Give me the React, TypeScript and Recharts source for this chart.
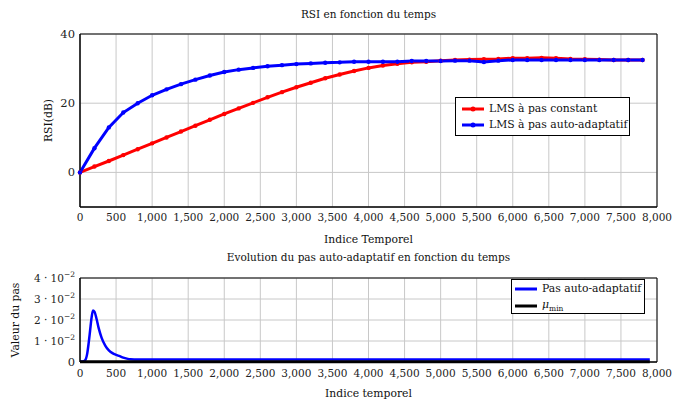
import { LineChart, Line, XAxis, YAxis, CartesianGrid, ReferenceArea, Legend } from "recharts";

const rsiIndex = [
  0, 200, 400, 600, 800, 1000, 1200, 1400, 1600, 1800, 2000, 2200, 2400, 2600, 2800, 3000, 3200, 3400, 3600, 3800,
  4000, 4200, 4400, 4600, 4800, 5000, 5200, 5400, 5600, 5800, 6000, 6200, 6400, 6600, 6800, 7000, 7200, 7400, 7600, 7800,
];
const rsiConstant = [
  0, 1.7, 3.3, 5.0, 6.7, 8.4, 10.1, 11.8, 13.5, 15.2, 16.9, 18.5, 20.1, 21.7, 23.2, 24.6, 25.9, 27.2, 28.3, 29.3,
  30.2, 30.9, 31.4, 31.8, 32.0, 32.3, 32.5, 32.6, 32.7, 32.8, 33.0, 33.0, 33.1, 33.0, 32.8, 32.7, 32.6, 32.5, 32.5, 32.5,
];
const rsiAdaptive = [
  0, 7.0, 13.0, 17.3, 20.0, 22.3, 24.0, 25.5, 26.8, 28.0, 29.0, 29.7, 30.2, 30.7, 31.0, 31.3, 31.5, 31.7, 31.8, 32.0,
  32.0, 32.0, 32.0, 32.2, 32.2, 32.2, 32.3, 32.3, 31.9, 32.3, 32.5, 32.5, 32.5, 32.5, 32.5, 32.5, 32.5, 32.5, 32.5, 32.5,
];

const stepIndex = [
  0, 40, 70, 100, 120, 140, 160, 180, 200, 230, 260, 300, 350, 400, 450, 500, 550, 600, 650, 700, 800, 1000,
  2000, 3000, 4000, 5000, 6000, 7000, 7900,
];
const stepAdaptive = [
  0.0002, 0.0003, 0.0008, 0.004, 0.009, 0.015, 0.021, 0.0245, 0.024, 0.0205, 0.016, 0.0115, 0.0078, 0.0055, 0.0042,
  0.0034, 0.0028, 0.0021, 0.0016, 0.0013, 0.0012, 0.0012, 0.0012, 0.0012, 0.0012, 0.0012, 0.0012, 0.0012, 0.0012,
];
const muMinIndex = [0, 7900];
const muMinValues = [0.0001, 0.0001];

const xTicks = [0, 500, 1000, 1500, 2000, 2500, 3000, 3500, 4000, 4500, 5000, 5500, 6000, 6500, 7000, 7500, 8000];
const rsiTicks = [0, 20, 40];
const stepTicks = [0, 0.01, 0.02, 0.03, 0.04];

const rsiData = rsiIndex.map((i, k) => ({ i, constant: rsiConstant[k], adaptive: rsiAdaptive[k] }));
const stepData = stepIndex.map((i, k) => ({ i, v: stepAdaptive[k] }));
const muMinData = muMinIndex.map((i, k) => ({ i, v: muMinValues[k] }));

const FONT = "'DejaVu Serif', serif";
const tickStyle = { fontSize: 10.5, fill: "#222", fontFamily: FONT };
const fmt = (v: number) => v.toLocaleString("en-US");

function StepTick({ x, y, payload }: any) {
  const v = payload.value;
  if (v === 0) {
    return (
      <text x={x} y={y} dy="0.35em" textAnchor="end" style={{ ...tickStyle, fontSize: 11.5 }}>
        0
      </text>
    );
  }
  return (
    <text x={x} y={y} dy="0.35em" textAnchor="end" style={tickStyle}>
      <tspan>{Math.round(v * 100)} · 10</tspan>
      <tspan dy={-5} fontSize={7.5}>
        −2
      </tspan>
    </text>
  );
}

function Sample({ color, dot }: { color: string; dot?: boolean }) {
  return (
    <svg width={22} height={8} style={{ marginRight: 5, flex: "none" }}>
      <line x1={0} y1={4} x2={22} y2={4} stroke={color} strokeWidth={3} />
      {dot && <circle cx={11} cy={4} r={2.5} fill={color} />}
    </svg>
  );
}

const legendBox: React.CSSProperties = {
  border: "1px solid #000",
  background: "#fff",
  fontFamily: FONT,
  fontSize: 10.8,
  lineHeight: "16px",
  color: "#111",
  whiteSpace: "nowrap",
  boxSizing: "border-box",
};

function RsiLegend() {
  return (
    <div style={{ ...legendBox, width: 175, height: 39, padding: "3px 0 0 6px" }}>
      <div style={{ display: "flex", alignItems: "center" }}>
        <Sample color="#ff0000" dot />
        LMS à pas constant
      </div>
      <div style={{ display: "flex", alignItems: "center" }}>
        <Sample color="#0000ff" dot />
        LMS à pas auto-adaptatif
      </div>
    </div>
  );
}

function StepLegend() {
  return (
    <div style={{ ...legendBox, width: 134, height: 35, padding: "1px 0 0 3px" }}>
      <div style={{ display: "flex", alignItems: "center" }}>
        <Sample color="#0000ff" />
        Pas auto-adaptatif
      </div>
      <div style={{ display: "flex", alignItems: "center" }}>
        <Sample color="#000" />
        <span>
          <span style={{ fontStyle: "italic" }}>μ</span>
          <span style={{ fontSize: 7.5, position: "relative", top: 3 }}>min</span>
        </span>
      </div>
    </div>
  );
}

const titleStyle: React.CSSProperties = {
  position: "absolute",
  left: 80,
  width: 577,
  textAlign: "center",
  fontFamily: FONT,
  fontSize: 10.5,
  color: "#111",
};

const labelStyle = { fontSize: 10.8, fill: "#111", fontFamily: FONT };

export default function App() {
  return (
    <div style={{ position: "absolute", left: 0, top: 0, width: 673, height: 403, background: "#fff", fontFamily: FONT }}>
      <div style={{ ...titleStyle, top: 8 }}>RSI en fonction du temps</div>
      <div style={{ ...titleStyle, top: 251 }}>Evolution du pas auto-adaptatif en fonction du temps</div>

      <div style={{ position: "absolute", left: 0, top: 0 }}>
        <LineChart width={673} height={250} data={rsiData} margin={{ top: 34, right: 16, bottom: 7, left: 0 }}>
          <CartesianGrid stroke="#c8c8c8" strokeWidth={1} />
          <XAxis
            dataKey="i"
            type="number"
            domain={[0, 8000]}
            ticks={xTicks}
            interval={0}
            tickFormatter={fmt}
            tick={tickStyle}
            tickLine={false}
            tickSize={5}
            height={36}
            axisLine={{ stroke: "#000" }}
            label={{ value: "Indice Temporel", position: "insideBottom", offset: 0, style: labelStyle }}
          />
          <YAxis
            type="number"
            domain={[-10, 40]}
            ticks={rsiTicks}
            interval={0}
            tick={{ ...tickStyle, fontSize: 11.5 }}
            tickLine={false}
            tickSize={3}
            width={80}
            axisLine={{ stroke: "#000" }}
            label={{ value: "RSI(dB)", angle: -90, position: "insideLeft", offset: 48, style: { ...labelStyle, textAnchor: "middle" } }}
          />
          <ReferenceArea x1={0} x2={8000} y1={-10} y2={40} fill="none" stroke="#000" strokeWidth={1} />
          <Line
            dataKey="constant"
            stroke="#ff0000"
            strokeWidth={3}
            dot={{ r: 2.2, fill: "#ff0000", stroke: "#ff0000", strokeWidth: 0 }}
            isAnimationActive={false}
          />
          <Line
            dataKey="adaptive"
            stroke="#0000ff"
            strokeWidth={3}
            dot={{ r: 2.2, fill: "#0000ff", stroke: "#0000ff", strokeWidth: 0 }}
            isAnimationActive={false}
          />
          <Legend
            layout="horizontal"
            verticalAlign="middle"
            align="center"
            wrapperStyle={{ left: 455, top: 97, width: "auto" }}
            content={() => <RsiLegend />}
          />
        </LineChart>
      </div>

      <div style={{ position: "absolute", left: 0, top: 240 }}>
        <LineChart width={673} height={163} margin={{ top: 38, right: 16, bottom: 3, left: 0 }}>
          <CartesianGrid stroke="#c8c8c8" strokeWidth={1} />
          <XAxis
            dataKey="i"
            type="number"
            domain={[0, 8000]}
            ticks={xTicks}
            interval={0}
            tickFormatter={fmt}
            tick={tickStyle}
            tickLine={false}
            tickSize={6}
            height={38}
            axisLine={{ stroke: "#000" }}
            allowDuplicatedCategory={false}
            label={{ value: "Indice temporel", position: "insideBottom", offset: 3, style: labelStyle }}
          />
          <YAxis
            type="number"
            domain={[0, 0.04]}
            ticks={stepTicks}
            interval={0}
            tick={<StepTick />}
            tickLine={false}
            tickSize={3}
            width={80}
            axisLine={{ stroke: "#000" }}
            label={{ value: "Valeur du pas", angle: -90, position: "insideLeft", offset: 15, style: { ...labelStyle, textAnchor: "middle" } }}
          />
          <ReferenceArea x1={0} x2={8000} y1={0} y2={0.04} fill="none" stroke="#000" strokeWidth={1} />
          <Line data={stepData} dataKey="v" type="monotone" stroke="#0000ff" strokeWidth={2.5} dot={false} isAnimationActive={false} />
          <Line data={muMinData} dataKey="v" stroke="#000" strokeWidth={3} dot={false} isAnimationActive={false} />
          <Legend
            layout="horizontal"
            verticalAlign="middle"
            align="center"
            wrapperStyle={{ left: 511, top: 39, width: "auto" }}
            content={() => <StepLegend />}
          />
        </LineChart>
      </div>
    </div>
  );
}
